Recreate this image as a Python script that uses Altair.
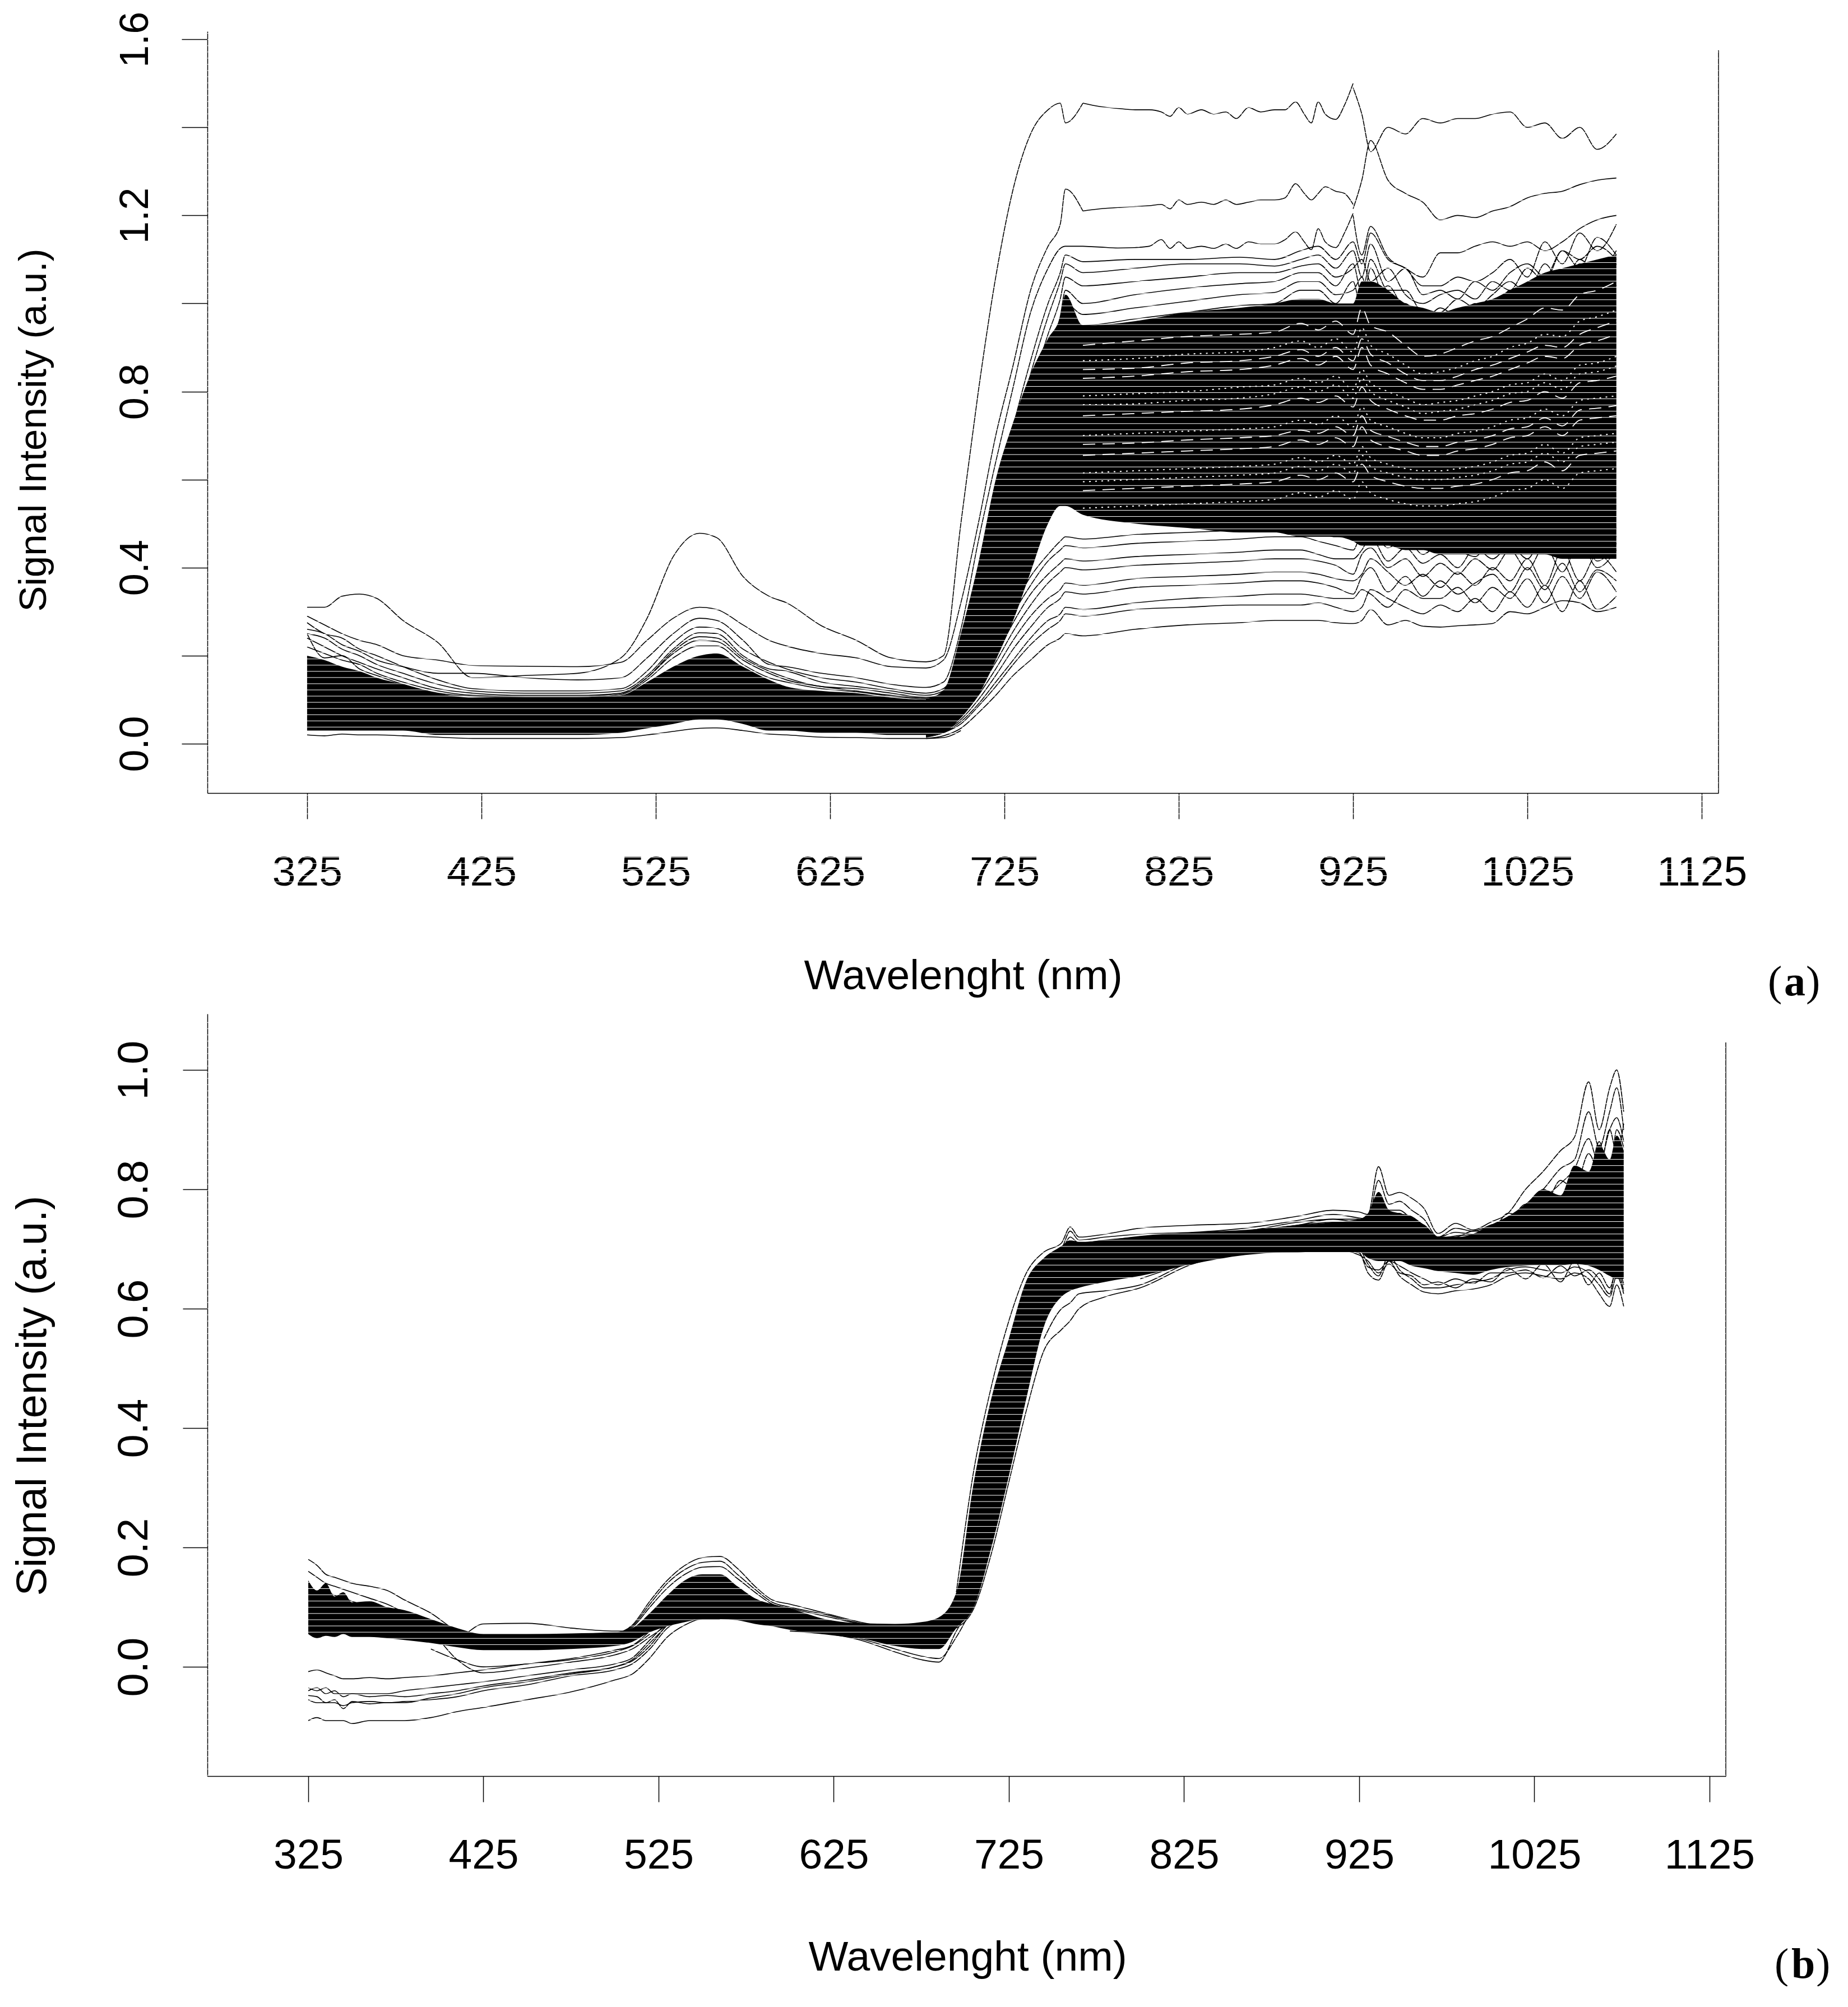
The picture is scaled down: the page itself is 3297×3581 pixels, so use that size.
import altair as alt
import numpy as np
import pandas as pd

# ---------- Panel (a) ----------
WL_A = [325,335,345,355,365,380,400,420,450,480,505,520,535,550,560,575,590,600,620,640,660,680,
        690,700,710,720,730,740,750,757,760,770,800,830,860,880,895,905,915,925,930,935,945,955,965,
        975,985,995,1005,1015,1025,1035,1045,1055,1065,1076]
WL_TOP = [770,780,790,800,808,815,820,825,830,838,845,852,858,865,872,880,886,892,897,901,905,909,915,920,925]
CORE_A_LOW = [.03,.03,.03,.03,.03,.03,.02,.02,.02,.02,.025,.035,.045,.055,.055,.045,.03,.03,.025,.025,.02,.02,
              .025,.06,.11,.19,.28,.39,.50,.54,.54,.52,.50,.49,.48,.48,.47,.47,.47,.46,.45,.45,.45,.44,.44,
              .43,.43,.43,.43,.43,.43,.43,.42,.42,.42,.42]
CORE_A_UP = [.20,.19,.175,.165,.15,.135,.115,.105,.105,.105,.11,.14,.175,.2,.205,.175,.145,.13,.12,.115,.105,.10,
             .12,.25,.41,.60,.73,.84,.92,.97,1.02,.95,.96,.98,.99,1.0,1.01,1.01,1.0,1.0,1.05,1.05,1.03,1.0,.99,
             .98,.99,1.0,1.01,1.03,1.05,1.07,1.08,1.09,1.10,1.11]
A1 = [.31,.31,.335,.34,.33,.28,.23,.15,.155,.16,.195,.285,.425,.478,.468,.38,.335,.32,.268,.235,.195,.186,
      .2,.5,.8,1.06,1.26,1.385,1.44,1.455,1.41,1.455,1.44,1.435,1.43,1.44,1.45,1.455,1.42,1.49,1.43,1.345,1.40,1.385,1.42,
      1.41,1.42,1.42,1.43,1.435,1.40,1.41,1.375,1.40,1.35,1.385]
A2 = [.29,.27,.25,.235,.225,.2,.19,.178,.176,.175,.185,.235,.285,.31,.305,.27,.235,.222,.205,.195,.175,.172,
      .19,.32,.5,.70,.86,1.03,1.13,1.18,1.26,1.21,1.22,1.23,1.235,1.24,1.26,1.245,1.265,1.215,1.28,1.37,1.28,1.25,1.23,
      1.19,1.20,1.195,1.21,1.22,1.24,1.25,1.255,1.27,1.28,1.285]
A3 = [.26,.25,.225,.21,.19,.175,.16,.16,.15,.145,.15,.195,.25,.285,.28,.235,.18,.175,.16,.15,.135,.128,
      .14,.26,.46,.64,.81,.98,1.08,1.125,1.13,1.13,1.125,1.135,1.13,1.14,1.16,1.165,1.125,1.2,1.11,1.175,1.105,1.08,1.06,
      1.115,1.115,1.13,1.14,1.13,1.14,1.12,1.14,1.17,1.19,1.2]
A1_MID = [1.455,1.447,1.443,1.44,1.44,1.435,1.425,1.445,1.43,1.44,1.43,1.435,1.42,1.445,1.435,1.44,1.44,1.458,1.43,1.41,1.458,1.43,1.418,1.45,1.5]
A2_MID = [1.21,1.215,1.218,1.22,1.222,1.225,1.215,1.235,1.225,1.23,1.225,1.235,1.225,1.23,1.235,1.235,1.24,1.272,1.25,1.235,1.25,1.265,1.255,1.25,1.225]
A3_MID = [1.13,1.128,1.126,1.127,1.13,1.145,1.125,1.14,1.125,1.13,1.125,1.135,1.125,1.14,1.135,1.135,1.145,1.163,1.14,1.122,1.17,1.14,1.127,1.16,1.205]
V1 = [.275,.25,.24,.215,.2,.175,.145,.125,.12,.12,.125,.165,.23,.265,.262,.215,.185,.17,.15,.14,.125,.115,.125,.2]
V2 = [.25,.24,.215,.2,.18,.16,.135,.12,.115,.115,.12,.155,.215,.252,.25,.2,.17,.165,.14,.13,.12,.11,.12,.18]
V3 = [.24,.22,.2,.185,.17,.15,.125,.115,.11,.11,.115,.15,.21,.243,.24,.195,.165,.15,.13,.125,.115,.105,.115,.16]
V4 = [.22,.205,.19,.18,.16,.14,.12,.11,.108,.108,.115,.15,.205,.235,.232,.19,.16,.145,.13,.12,.11,.105,.11,.15]
V5 = [.25,.195,.2,.17,.155,.135,.115,.108,.105,.105,.112,.145,.195,.222,.222,.18,.15,.14,.125,.118,.108,.102,.11,.14]
V6 = [.02,.018,.022,.02,.02,.018,.015,.012,.012,.012,.014,.02,.028,.035,.036,.03,.022,.02,.015,.014,.012,.012,.014,.03]
# from 680 nm
B1 = [.012,.018,.035,.07,.11,.155,.19,.225,.24,.25,.245,.26,.27,.275,.28,.28,.28,.275,.273,.28,.305,.27,.28,.267,.265,.268,.27,.273,.30,.295,.31,.325,.32,.30,.31]
L1 = [.015,.025,.045,.085,.13,.18,.225,.26,.28,.295,.29,.305,.31,.315,.315,.315,.32,.31,.30,.31,.35,.33,.31,.295,.315,.30,.33,.30,.345,.31,.36,.30,.37,.305,.335]
L2 = [.016,.025,.05,.09,.14,.19,.24,.28,.295,.31,.305,.32,.33,.335,.34,.34,.335,.33,.33,.35,.34,.31,.35,.33,.33,.355,.32,.355,.33,.375,.32,.38,.33,.39,.345]
L3 = [.017,.028,.055,.1,.155,.215,.265,.31,.33,.345,.34,.355,.36,.365,.37,.37,.365,.355,.34,.38,.40,.345,.38,.335,.37,.34,.365,.385,.345,.40,.35,.41,.345,.395,.37]
L4 = [.018,.03,.06,.11,.17,.235,.29,.33,.35,.365,.36,.375,.38,.385,.39,.39,.385,.375,.37,.385,.42,.39,.36,.385,.355,.39,.36,.40,.37,.42,.36,.44,.37,.43,.39]
L5 = [.02,.032,.065,.12,.185,.255,.315,.365,.39,.40,.395,.405,.41,.415,.42,.42,.415,.405,.385,.43,.445,.40,.42,.38,.41,.385,.42,.395,.44,.395,.45,.39,.46,.40,.44]
L6 = [.02,.035,.07,.13,.2,.275,.34,.385,.41,.42,.415,.425,.43,.435,.44,.44,.43,.42,.42,.44,.47,.415,.445,.41,.43,.40,.445,.42,.45,.42,.48,.43,.475,.415,.455]
L7 = [.022,.037,.075,.14,.215,.295,.36,.415,.44,.45,.445,.455,.46,.465,.47,.47,.46,.45,.44,.48,.49,.445,.47,.43,.455,.44,.425,.47,.45,.49,.44,.50,.45,.49,.47]
L8 = [.023,.04,.08,.15,.23,.31,.38,.43,.46,.47,.465,.475,.48,.485,.49,.49,.48,.47,.47,.50,.52,.47,.49,.45,.475,.45,.48,.465,.505,.46,.51,.46,.52,.46,.49]
U1 = [.10,.12,.22,.38,.55,.72,.87,1.0,1.07,1.11,1.095,1.10,1.10,1.105,1.10,1.12,1.13,1.10,1.14,1.09,1.16,1.10,1.08,1.04,1.04,1.06,1.05,1.07,1.10,1.06,1.14,1.09,1.16,1.12,1.18]
U2 = [.10,.12,.21,.36,.53,.69,.84,.97,1.05,1.09,1.07,1.08,1.09,1.09,1.085,1.10,1.11,1.08,1.12,1.06,1.135,1.05,1.08,1.02,1.03,1.01,1.05,1.03,1.07,1.09,1.06,1.12,1.08,1.15,1.11]
U3 = [.10,.115,.2,.34,.5,.65,.80,.93,1.01,1.06,1.04,1.05,1.06,1.07,1.07,1.085,1.09,1.06,1.08,1.10,1.05,1.08,1.02,1.0,1.02,1.03,1.01,1.05,1.03,1.08,1.05,1.12,1.10,1.13,1.10]
U4 = [.095,.11,.19,.32,.47,.62,.76,.89,.97,1.03,1.0,1.02,1.035,1.045,1.05,1.07,1.07,1.04,1.09,1.02,1.10,1.03,1.03,.98,.98,1.01,.99,1.02,1.05,1.02,1.09,1.04,1.10,1.07,1.12]
U5 = [.095,.11,.18,.3,.44,.58,.72,.85,.93,1.0,.975,.99,1.005,1.02,1.025,1.05,1.05,1.02,1.03,1.06,1.0,1.04,.98,.96,.99,.97,1.0,.98,1.03,1.0,1.06,1.03,1.09,1.05,1.09]
U6 = [.09,.105,.17,.28,.41,.55,.68,.81,.89,.97,.95,.965,.98,.995,1.0,1.03,1.03,1.0,1.05,.98,1.08,.99,1.0,.95,.94,.98,.95,.99,1.0,1.03,1.0,1.06,1.03,1.07,1.04]
# uncovered background between the bundled curves, from 770 nm
W1 = [.905,.915,.925,.93,.935,.955,.94,.96,.93,.99,.95,.935,.905,.88,.885,.9,.915,.925,.945,.965,.99,.985,1.02,1.03,1.05]
W2 = [.87,.875,.885,.89,.9,.915,.9,.92,.89,.945,.905,.885,.86,.84,.845,.855,.87,.88,.9,.91,.93,.925,.96,.97,.985]
W3 = [.83,.835,.845,.85,.86,.875,.86,.88,.85,.9,.86,.84,.82,.805,.805,.815,.825,.835,.85,.865,.88,.875,.905,.915,.93]
W4 = [.79,.795,.8,.81,.815,.83,.82,.835,.805,.85,.82,.8,.785,.77,.775,.78,.79,.8,.815,.82,.84,.825,.86,.865,.88]
W5 = [.745,.75,.755,.76,.77,.785,.775,.79,.765,.81,.78,.76,.745,.735,.735,.745,.75,.76,.775,.78,.8,.785,.82,.825,.835]
W6 = [.70,.705,.71,.715,.72,.735,.725,.745,.72,.765,.735,.72,.705,.695,.695,.705,.71,.72,.735,.74,.76,.745,.78,.785,.79]
W7 = [.655,.66,.665,.67,.675,.69,.68,.695,.675,.72,.69,.675,.665,.655,.655,.665,.67,.68,.695,.70,.72,.70,.735,.74,.745]
W8 = [.615,.62,.625,.63,.635,.65,.64,.655,.635,.675,.65,.635,.625,.62,.62,.625,.63,.64,.655,.66,.68,.66,.695,.70,.705]
W9 = [.575,.58,.585,.59,.595,.61,.60,.615,.595,.635,.61,.595,.585,.58,.58,.585,.59,.6,.615,.62,.64,.62,.655,.66,.665]
W10 = [.535,.54,.545,.55,.555,.57,.56,.575,.555,.595,.57,.555,.545,.54,.54,.545,.55,.56,.575,.58,.60,.58,.615,.62,.625]
W11 = [.85,.853,.865,.87,.88,.895,.88,.9,.87,.92,.885,.865,.84,.825,.825,.835,.85,.86,.875,.89,.905,.9,.93,.945,.96]
W12 = [.77,.772,.78,.785,.795,.81,.80,.815,.785,.83,.80,.78,.765,.75,.755,.76,.77,.78,.795,.80,.82,.805,.84,.845,.858]
W13 = [.68,.683,.69,.695,.70,.712,.705,.72,.70,.745,.712,.698,.685,.675,.675,.685,.69,.7,.715,.72,.74,.722,.758,.762,.768]
W14 = [.595,.60,.605,.61,.615,.63,.62,.635,.615,.655,.63,.615,.605,.60,.60,.605,.61,.62,.635,.64,.66,.64,.675,.68,.685]

# ---------- Panel (b) ----------
WL_B = [325,330,335,340,345,350,360,370,380,395,410,425,450,475,500,510,520,530,540,550,560,570,580,590,600,620,640,660,675,685,695,
        705,715,725,735,745,755,760,765,780,
        800,830,860,890,910,925,930,936,942,948,955,962,970,980,990,1000,1010,1020,1030,1040,1048,1056,1062,1068,1072,1076]
CORE_B_LOW = [.055,.048,.052,.05,.055,.05,.05,.048,.045,.04,.033,.028,.028,.03,.035,.042,.058,.068,.075,.08,.08,.078,.072,.068,.062,.055,.048,.035,.03,.03,.065,
              .10,.20,.32,.45,.57,.62,.63,.635,.645,
              .655,.675,.69,.695,.695,.695,.685,.68,.68,.68,.672,.668,.663,.66,.657,.665,.67,.672,.673,.673,.675,.672,.665,.655,.65,.65]
CORE_B_UP = [.145,.128,.14,.118,.125,.108,.11,.1,.095,.08,.065,.055,.055,.056,.058,.065,.09,.12,.145,.155,.155,.135,.115,.105,.098,.08,.073,.072,.075,.083,.125,
             .31,.45,.55,.647,.685,.705,.715,.712,.715,
             .722,.728,.732,.74,.745,.75,.76,.795,.765,.76,.755,.74,.72,.72,.725,.74,.755,.775,.80,.79,.84,.83,.875,.85,.89,.865]
N1 = [-.09,-.085,-.09,-.09,-.09,-.095,-.09,-.09,-.09,-.085,-.075,-.068,-.055,-.042,-.022,-.012,.015,.05,.07,.08,.08]
N2 = [-.055,-.06,-.06,-.06,-.065,-.06,-.058,-.06,-.058,-.055,-.05,-.04,-.03,-.015,-.005,.005,.03,.065,.08,.085]
N3 = [-.04,-.035,-.045,-.04,-.05,-.045,-.05,-.048,-.05,-.045,-.04,-.032,-.022,-.01,0,.01,.035,.07,.085]
N4 = [-.035,-.04,-.035,-.045,-.045,-.045,-.045,-.045,-.04,-.035,-.03,-.025,-.015,-.005,.005,.015,.045,.075]
N5 = [-.048,-.05,-.06,-.055,-.07,-.058,-.062,-.06,-.06,-.052,-.045,-.035,-.025,-.012,.0,.012,.04,.07]
N6 = [-.008,-.005,-.01,-.015,-.02,-.02,-.018,-.02,-.018,-.015,-.01,-.005,.005,.014,.028,.036,.06]
N7 = [.03,.012,.0,.005,.012,.025,.035,.055]
H1 = [.18,.17,.155,.15,.145,.14,.135,.128,.112,.09,.06,.05]
H2 = [.16,.15,.14,.135,.13,.125,.115,.105,.09,.06,.012,-.01,-.002,.008,.02,.03,.05,.07]
H3 = [.13,.125,.125,.12,.115,.11,.1,.095,.085,.07,.05,.072,.073,.065,.06,.06,.075]
P1 = [.055,.07,.11,.145,.17,.183,.185,.165,.135,.112,.105,.09,.075,.065,.06]
P2 = [.055,.068,.105,.14,.163,.175,.177,.155,.13,.108,.10,.088,.073,.065,.06]
P3 = [.055,.066,.1,.132,.155,.167,.168,.148,.125,.105,.098,.085,.072,.064,.06]
D1 = [.06,.056,.045,.025,.012,.008,.06,.11]
D2 = [.06,.055,.047,.03,.018,.014,.05,.105]
T1 = [.125,.33,.47,.58,.66,.695,.71,.737,.72,.725,
      .735,.74,.743,.755,.765,.762,.758,.838,.79,.795,.785,.768,.726,.743,.732,.745,.76,.80,.83,.865,.888,.98,.90,.97,1.0,.93]
T2 = [.68,.70,.73,.715,.72,
      .725,.728,.735,.748,.758,.752,.75,.815,.775,.78,.765,.75,.72,.735,.73,.74,.75,.775,.80,.835,.85,.93,.87,.93,.97,.90]
T3 = [.675,.695,.72,.71,.715,
      .72,.725,.73,.745,.75,.75,.745,.795,.765,.765,.75,.74,.72,.728,.725,.735,.745,.765,.785,.81,.835,.885,.84,.90,.92,.88]
T4 = [.72,.725,.73,.74,.75,.745,.75,.78,.76,.76,.745,.74,.72,.72,.73,.73,.76,.755,.80,.78,.835,.82,.88,.82,.90,.87]
T5 = [.72,.722,.728,.74,.745,.745,.745,.77,.755,.75,.745,.73,.718,.722,.725,.74,.745,.775,.77,.815,.80,.86,.83,.90,.86,.91]
Q1 = [.065,.098,.19,.31,.43,.53,.565,.58,.60,.62,
      .635,.675,.692,.70,.705,.695,.66,.648,.68,.655,.64,.628,.625,.63,.633,.64,.655,.66,.655,.65,.66,.65,.625,.604,.64,.604]
Q2 = [.55,.60,.61,.625,.63,
      .64,.68,.695,.705,.71,.70,.675,.655,.69,.665,.65,.635,.635,.64,.645,.65,.665,.67,.665,.66,.67,.66,.64,.62,.655,.625]
Q3 = [.65,.678,.695,.695,.70,.69,.68,.66,.675,.66,.655,.64,.645,.635,.65,.645,.668,.65,.675,.645,.68,.64,.66,.635,.665,.63]
Q4 = [.66,.68,.692,.698,.702,.693,.67,.665,.68,.672,.66,.65,.64,.65,.642,.66,.66,.665,.652,.672,.655,.665,.65,.625,.675,.64]

X_TICKS = [325,425,525,625,725,825,925,1025,1125]
Y_TICKS_A = [0,.2,.4,.6,.8,1.0,1.2,1.4,1.6]
Y_TICKS_B = [0,.2,.4,.6,.8,1.0]

IDX_770, IDX_925 = 32, 39   # positions of 770 and 925 nm (inclusive end / start) in WL_A
LINES_A = [(WL_A,325,A1[:IDX_770]),(WL_TOP,770,A1_MID),(WL_A,925,A1[IDX_925:]),
           (WL_A,325,A2[:IDX_770]),(WL_TOP,770,A2_MID),(WL_A,925,A2[IDX_925:]),
           (WL_A,325,A3[:IDX_770]),(WL_TOP,770,A3_MID),(WL_A,925,A3[IDX_925:]),
           (WL_A,325,V1),(WL_A,325,V2),(WL_A,325,V3),(WL_A,325,V4),(WL_A,325,V5),(WL_A,325,V6),
           (WL_A,680,B1),(WL_A,680,L1),(WL_A,680,L2),(WL_A,680,L3),(WL_A,680,L4),(WL_A,680,L5),(WL_A,680,L6),(WL_A,680,L7),(WL_A,680,L8),
           (WL_A,680,U1),(WL_A,680,U2),(WL_A,680,U3),(WL_A,680,U4),(WL_A,680,U5),(WL_A,680,U6)]
STREAKS_A = [(WL_A,770,w) for w in (W1,W3,W5,W7,W9,W11,W13)]
SPECKS_A = [(WL_A,770,w) for w in (W2,W4,W6,W8,W10,W12,W14)]
LINES_B = [(WL_B,s,v) for s,v in [(325,N1),(325,N2),(325,N3),(325,N4),(325,N5),(325,N6),(395,N7),(325,H1),(325,H2),(325,H3),
           (500,P1),(500,P2),(500,P3),(600,D1),(600,D2),(695,T1),(745,T2),(745,T3),(800,T4),(800,T5),(695,Q1),(745,Q2),(800,Q3),(800,Q4)]]


def long_form(series):
    rows = []
    for i, (grid, start, vals) in enumerate(series):
        k = grid.index(start)
        for w, v in zip(grid[k:], vals):
            rows.append({"id": i, "wl": w, "v": v})
    return pd.DataFrame(rows)


def panel(grid, low, up, lines, streaks, specks, xdom, ydom, ticks_y, lab_expr, w, h, right_top,
          stripes, tick_y, pad_y, size_y, title_size_y, ty, tx, tty, parts):
    xs = alt.Scale(domain=xdom, nice=False, zero=False)
    ys = alt.Scale(domain=ydom, nice=False, zero=False)
    xa = alt.Axis(values=X_TICKS, grid=False, domainColor="black", domainWidth=1.5, tickColor="black",
                  tickWidth=1.5, tickSize=46, labelFont="Liberation Sans", labelFontSize=75, labelColor="black",
                  labelBaseline="alphabetic", labelPadding=118, labelOverlap=False, labelFlush=False,
                  labelBound=False, title="Wavelenght (nm)", titleFont="Liberation Sans", titleFontSize=75,
                  titleFontWeight="normal", titleColor="black", titleX=tx, titleY=tty, titleBaseline="alphabetic",
                  titleAlign="center", format="d")
    ya = alt.Axis(values=ticks_y, grid=False, domainColor="black", domainWidth=1.5, tickColor="black",
                  tickWidth=1.5, tickSize=tick_y, labelFont="Liberation Sans", labelFontSize=size_y, labelColor="black",
                  labelAngle=270, labelAlign="center", labelBaseline="alphabetic", labelPadding=pad_y,
                  labelOverlap=False, labelFlush=False, labelBound=False, labelExpr=lab_expr,
                  title="Signal Intensity (a.u.)", titleFont="Liberation Sans", titleFontSize=title_size_y,
                  titleFontWeight="normal", titleColor="black", titleAngle=270, titleX=-289, titleY=ty,
                  titleBaseline="alphabetic", titleAlign="center")
    X = alt.X("wl:Q", scale=xs, axis=xa)
    Y = alt.Y("v:Q", scale=ys, axis=ya)
    core = pd.DataFrame({"wl": grid, "v": low, "up": up})
    layers = [
        alt.Chart(core).mark_area(color="black", interpolate="monotone").encode(x=X, y=Y, y2="up:Q"),
        alt.Chart(long_form(lines)).mark_line(color="black", strokeWidth=1.6, interpolate="monotone")
        .encode(x=X, y=Y, detail="id:N"),
    ]
    if streaks:
        layers.append(alt.Chart(long_form(streaks)).mark_line(color="white", strokeWidth=1.8, strokeDash=[22, 13],
                                                              interpolate="monotone").encode(x=X, y=Y, detail="id:N"))
    if specks:
        layers.append(alt.Chart(long_form(specks)).mark_line(color="white", strokeWidth=2, strokeDash=[3, 8],
                                                             interpolate="monotone").encode(x=X, y=Y, detail="id:N"))
    edge = pd.DataFrame({"wl": [xdom[1]], "v": [ydom[0]], "v2": [right_top]})
    layers.append(alt.Chart(edge).mark_rule(color="black", strokeWidth=1.5).encode(x=X, y=Y, y2="v2:Q"))
    # the fine white scan lines that run through the whole reference picture
    layers.append(alt.Chart(pd.DataFrame({"v": stripes})).mark_rule(color="white", strokeWidth=1).encode(y=Y))
    for txt, px, py, wt in parts:
        layers.append(alt.Chart(pd.DataFrame({"t": [txt]})).mark_text(
            font="Liberation Serif", fontSize=76, fontWeight=wt, align="left", baseline="alphabetic", color="black"
        ).encode(x=alt.value(px), y=alt.value(py), text="t:N"))
    return alt.layer(*layers).properties(width=w, height=h)


assert len(WL_A) == len(CORE_A_LOW) == len(CORE_A_UP) == len(A1) == len(A2) == len(A3)
assert len(WL_B) == len(CORE_B_LOW) == len(CORE_B_UP)

stripes_a = np.arange(.6709 - 70 * .014068, 1.62, .014068).tolist()
stripes_b = np.arange(.4438 - 60 * .010423, 1.09, .010423).tolist()

a = panel(WL_A, CORE_A_LOW, CORE_A_UP, LINES_A, STREAKS_A, SPECKS_A, [267.8, 1134.6], [-.112, 1.618], Y_TICKS_A,
          "round(datum.value*10)%4==0 ? format(datum.value,'.1f') : ''", 2696, 1359, 1.575,
          stripes_a, 46, 61, 72, 69, 711, 1348, 349,
          [("(", 2784, 1720, "normal"), ("a", 2813, 1720, "bold"), (")", 2852, 1720, "normal")])
b = panel(WL_B, CORE_B_LOW, CORE_B_UP, LINES_B, [], [], [267.4, 1134.3], [-.183, 1.094], Y_TICKS_B,
          "format(datum.value,'.1f')", 2709, 1360, 1.046,
          stripes_b, 44, 64, 76, 76, 681, 1356, 346,
          [("(", 2796, 1720, "normal"), ("b", 2826, 1720, "bold"), (")", 2870, 1720, "normal")])

chart = (alt.vconcat(a, b, spacing=18)
         .properties(padding={"left": 12, "top": 12, "right": 0, "bottom": 0}, background="white")
         .configure_view(stroke=None))
chart.save("out.html", embed_options={"renderer": "svg", "actions": False})
